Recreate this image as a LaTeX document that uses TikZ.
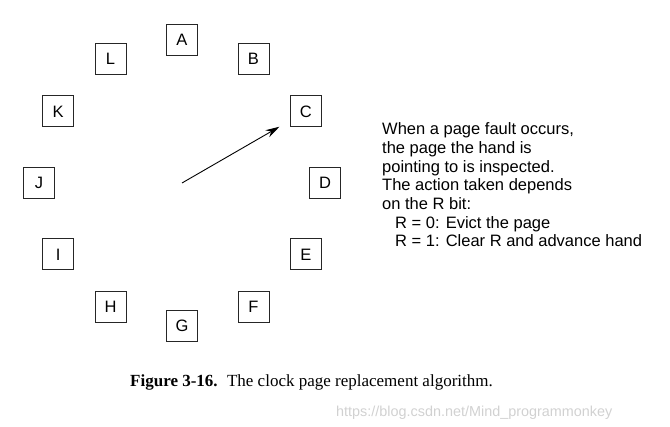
\documentclass[tikz,border=0pt]{standalone}
\usepackage{fontspec}
\setmainfont{Liberation Sans}
\newfontfamily\captionfont{Liberation Serif}
\usetikzlibrary{arrows.meta, positioning}
\tikzstyle{arrow} = [line width=0.9pt,-{Stealth[length=14pt,width=8pt]}]
\tikzstyle{page} = [rectangle, draw=black!85, line width=1pt, minimum size=31pt, inner sep=0pt, font=\fontsize{16.5}{18}\selectfont]
\tikzstyle{note} = [align=left, inner sep=0pt, font=\fontsize{16.5}{18.7}\selectfont]

\begin{document}
\begin{tikzpicture}[x=1pt, y=1pt]
\useasboundingbox (0,0) rectangle (670,427);
% centre of the clock
\coordinate (hub) at (182,244);
% Placement of the pages round the clock
\begin{scope}[shift={(hub)}]
\node (pageA) [page] at (90:143) {A};
\node (pageB) [page] at (60:143) {B};
\node (pageC) [page] at (30:143) {C};
\node (pageD) [page] at (0:143) {D};
\node (pageE) [page] at (-30:143) {E};
\node (pageF) [page] at (-60:143) {F};
\node (pageG) [page] at (-90:143) {G};
\node (pageH) [page] at (-120:143) {H};
\node (pageI) [page] at (-150:143) {I};
\node (pageJ) [page] at (180:143) {J};
\node (pageK) [page] at (150:143) {K};
\node (pageL) [page] at (120:143) {L};
\end{scope}

% the hand
\draw [arrow, shorten >=12pt] (hub) -- (pageC);

% explanation
\node (explain) [note, right=41pt of pageD.east, anchor=west, yshift=-2pt] {When a page fault occurs,\\
the page the hand is\\
pointing to is inspected.\\
The action taken depends\\
on the R bit:\\
\hspace*{13pt}R = 0: Evict the page\\
\hspace*{13pt}R = 1: Clear R and advance hand};

% caption and watermark
\node (caption) [anchor=base west, inner sep=0pt, font=\captionfont\fontsize{17}{20}\selectfont] at (130,40) {\textbf{Figure 3-16.}\hspace{0.55em}The clock page replacement algorithm.};
\node (mark) [anchor=base west, inner sep=0pt, text=black!18, font=\fontsize{14.4}{16}\selectfont] at (336,10) {https://blog.csdn.net/Mind\_programmonkey};
\end{tikzpicture}
\end{document}
